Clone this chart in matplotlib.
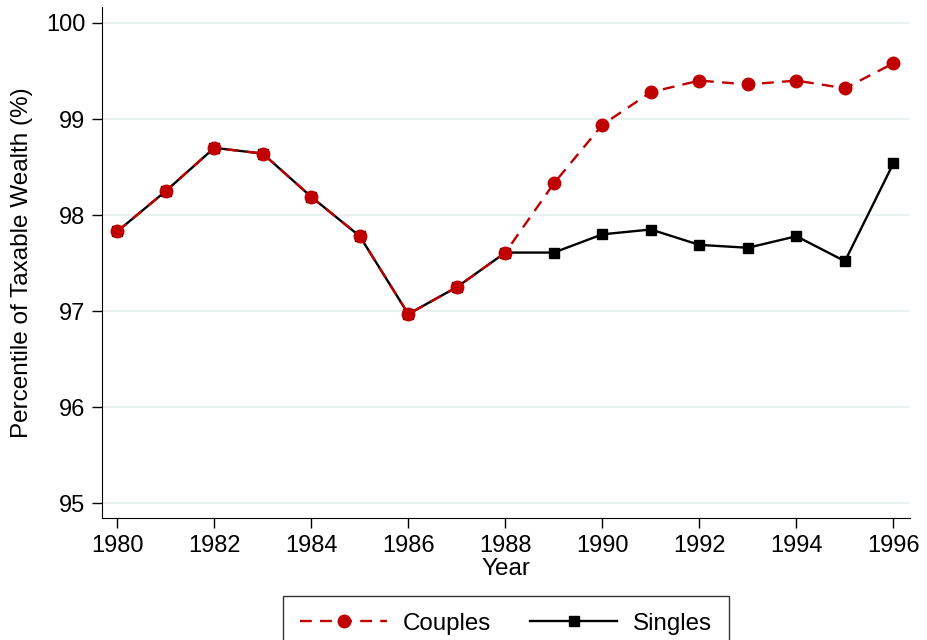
import matplotlib
matplotlib.use("Agg")
import matplotlib.pyplot as plt

plt.rcParams['font.family'] = ['Liberation Sans', 'DejaVu Sans']

years = list(range(1980, 1997))
couples = [97.83, 98.25, 98.70, 98.64, 98.19, 97.78, 96.97, 97.25, 97.61,
           98.33, 98.94, 99.28, 99.40, 99.36, 99.40, 99.32, 99.58]
singles = [97.83, 98.25, 98.70, 98.64, 98.19, 97.78, 96.97, 97.25, 97.61,
           97.61, 97.80, 97.85, 97.69, 97.66, 97.78, 97.52, 98.54]
xticks = list(range(1980, 1997, 2))
yticks = [95, 96, 97, 98, 99, 100]

fig = plt.figure(figsize=(9.27, 6.40), dpi=100)
ax = fig.add_axes([0.110, 0.1906, 0.8716, 0.798])

for y in yticks:
    ax.axhline(y, color='#eaf0f2', lw=1.3, zorder=0)

ls, = ax.plot(years, singles, color='black', lw=1.7, marker='s', markersize=6.5,
              label='Singles', zorder=2)
lc, = ax.plot(years, couples, color='#c00000', lw=1.7, ls=(0, (5, 3.5)), marker='o',
              markersize=9, label='Couples', zorder=3)

ax.set_xlim(1979.685, 1996.34)
ax.set_ylim(94.847, 100.163)
ax.set_xticks(xticks)
ax.set_yticks(yticks)
ax.tick_params(direction='out', length=7, width=1, labelsize=17, pad=5)
ax.spines['top'].set_visible(False)
ax.spines['right'].set_visible(False)
ax.set_xlabel('Year', fontsize=17.5, labelpad=1)
ax.set_ylabel('Percentile of Taxable Wealth (%)', fontsize=17.5, labelpad=9)

leg = fig.legend(handles=[lc, ls], loc='upper center', bbox_to_anchor=(0.546, 0.069),
                 ncol=2, fontsize=17.4, frameon=True, fancybox=False, edgecolor='black',
                 handlelength=3.6, columnspacing=1.6, handletextpad=0.66, borderpad=0.7,
                 borderaxespad=0)
leg.get_frame().set_linewidth(1.0)

fig.savefig('out.png', dpi=100)
